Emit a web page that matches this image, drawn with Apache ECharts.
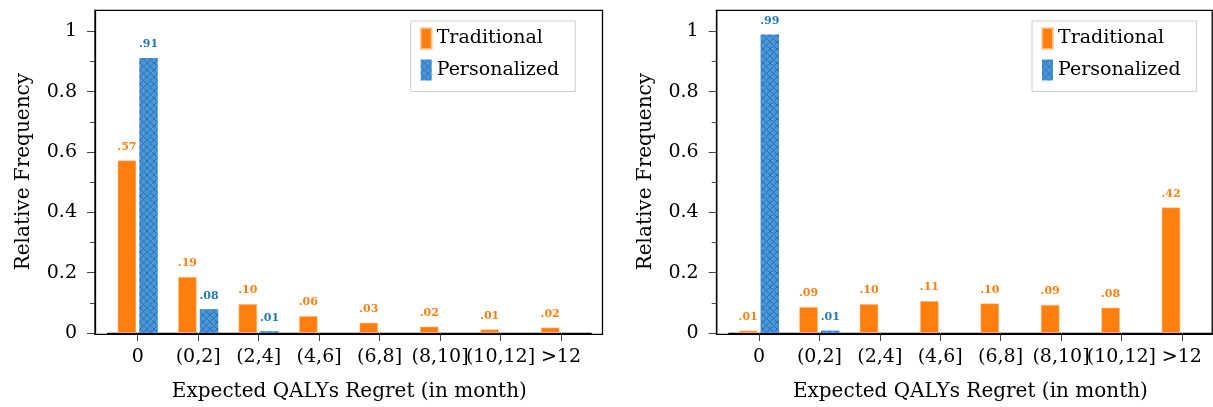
<!DOCTYPE html>
<html>
<head>
<meta charset="utf-8">
<script src="https://cdn.jsdelivr.net/npm/echarts@6/dist/echarts.min.js"></script>
<style>
html,body{margin:0;padding:0;background:#fff;}
#chart{width:1213px;height:407px;}
</style>
</head>
<body>
<div id="chart"></div>
<script>
// ---- data ----
const categories = ['0', '(0,2]', '(2,4]', '(4,6]', '(6,8]', '(8,10]', '(10,12]', '>12'];
const leftTraditional  = [0.572, 0.186, 0.096, 0.056, 0.034, 0.021, 0.012, 0.018];
const leftPersonalized = [0.912, 0.079, 0.006, 0, 0, 0, 0, 0];
const rightTraditional  = [0.008, 0.086, 0.096, 0.106, 0.098, 0.093, 0.084, 0.416];
const rightPersonalized = [0.99, 0.008, 0, 0, 0, 0, 0, 0];
const majorTicks = [0, 0.2, 0.4, 0.6, 0.8, 1];
const minorTicks = [0.1, 0.3, 0.5, 0.7, 0.9];
const seriesNames = ['Traditional', 'Personalized'];

const ORANGE = '#ff7f0e';
const BLUE = '#1f77b4';
const FONT = 'DejaVu Serif';

function hatch() {
  const s = 7;
  const c = document.createElement('canvas');
  c.width = s; c.height = s;
  const g = c.getContext('2d');
  g.fillStyle = '#4c95d8';
  g.fillRect(0, 0, s, s);
  g.strokeStyle = '#2672b5';
  g.lineWidth = 1;
  g.beginPath();
  g.moveTo(0, 0); g.lineTo(s, s);
  g.moveTo(s, 0); g.lineTo(0, s);
  g.stroke();
  return c;
}
const hatchImg = hatch();

const chart = echarts.init(document.getElementById('chart'), null, {renderer: 'canvas'});

const YMAX = 1.07;
const panels = [
  {frameLeft: 95, frameWidth: 507.5, plotLeft: 107.5, plotWidth: 483.7, legendLeft: 410.7, trad: leftTraditional, pers: leftPersonalized},
  {frameLeft: 716.7, frameWidth: 495.5, plotLeft: 728.8, plotWidth: 483.2, legendLeft: 1032, trad: rightTraditional, pers: rightPersonalized}
];
const TOP = 10.3, HEIGHT = 324;

const grid = [], xAxis = [], yAxis = [], series = [], legend = [];
const fmt = p => p.value ? p.value.toFixed(2).replace(/^0/, '') : '';

panels.forEach((p, i) => {
  grid.push({left: p.plotLeft, top: TOP, width: p.plotWidth, height: HEIGHT, containLabel: false});
  grid.push({left: p.frameLeft, top: TOP, width: p.frameWidth, height: HEIGHT, show: true,
             borderColor: '#000', borderWidth: 1.3, backgroundColor: 'transparent', z: 5});
  const gi = i * 2;
  xAxis.push({
    type: 'category', gridIndex: gi, data: categories, boundaryGap: true,
    name: 'Expected QALYs Regret (in month)', nameLocation: 'middle', nameGap: 49,
    nameTextStyle: {fontFamily: FONT, fontSize: 20, color: '#000'},
    axisLine: {show: true, lineStyle: {color: '#000', width: 1.3}},
    axisTick: {show: true, alignWithLabel: true, length: 8, lineStyle: {color: '#444', width: 1}},
    axisLabel: {interval: 0, margin: 15, fontFamily: FONT, fontSize: 19, color: '#000'},
    splitLine: {show: false}
  });
  const off = p.plotLeft - p.frameLeft;
  yAxis.push({
    type: 'value', gridIndex: gi, min: 0, max: YMAX, offset: off,
    name: 'Relative Frequency', nameLocation: 'middle', nameGap: 61,
    nameTextStyle: {fontFamily: FONT, fontSize: 20, color: '#000'},
    axisLine: {show: true, lineStyle: {color: '#000', width: 1.3}},
    axisTick: {show: true, length: 8, customValues: majorTicks, lineStyle: {color: '#444', width: 1}},
    axisLabel: {margin: 18, fontFamily: FONT, fontSize: 19, color: '#000', customValues: majorTicks,
                formatter: v => String(Math.round(v * 10) / 10)},
    splitLine: {show: false}
  });
  yAxis.push({
    type: 'value', gridIndex: gi, min: 0, max: YMAX, offset: off, position: 'left',
    axisLine: {show: false},
    axisTick: {show: true, length: 5, customValues: minorTicks, lineStyle: {color: '#444', width: 1}},
    axisLabel: {show: false},
    splitLine: {show: false}
  });
  const yi = i * 2;
  series.push({
    name: seriesNames[0], type: 'bar', xAxisIndex: i, yAxisIndex: yi, data: p.trad,
    barWidth: 18.5, barGap: '17%',
    itemStyle: {color: ORANGE, borderColor: 'rgba(255,200,150,0.8)', borderWidth: 0.6},
    label: {show: true, position: 'top', distance: 8, formatter: fmt,
            fontFamily: FONT, fontWeight: 'bold', fontSize: 11, color: ORANGE},
    emphasis: {disabled: true}, animation: false
  });
  series.push({
    name: seriesNames[1], type: 'bar', xAxisIndex: i, yAxisIndex: yi, data: p.pers,
    barWidth: 18.5, barGap: '17%',
    itemStyle: {color: {image: hatchImg, repeat: 'repeat'}},
    label: {show: true, position: 'top', distance: 8, formatter: fmt,
            fontFamily: FONT, fontWeight: 'bold', fontSize: 11, color: BLUE},
    emphasis: {disabled: true}, animation: false
  });
  legend.push({
    orient: 'vertical', left: p.legendLeft, top: 21, data: seriesNames,
    padding: [6, 16, 11, 9], itemWidth: 11, itemHeight: 21, itemGap: 9.5,
    icon: 'rect', selectedMode: false,
    borderColor: '#cccccc', borderWidth: 1, backgroundColor: '#fff',
    textStyle: {fontFamily: FONT, fontSize: 19, color: '#000'}
  });
});

chart.setOption({animation: false, grid, xAxis, yAxis, series, legend});
</script>
</body>
</html>
